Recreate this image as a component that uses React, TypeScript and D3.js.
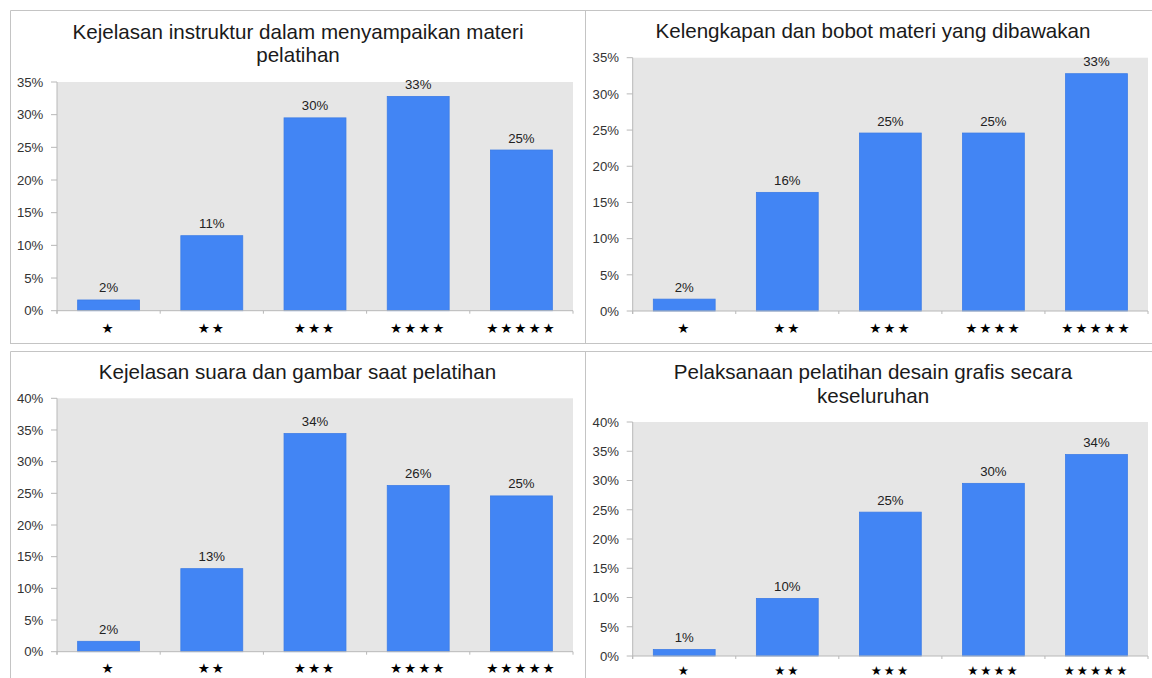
import React from "react";
import * as d3 from "d3";

// Rating categories (1 to 5 stars)
const ratings = ["★", "★★", "★★★", "★★★★", "★★★★★"];

// Panel titles
const titleInstruktur = ["Kejelasan instruktur dalam menyampaikan materi", "pelatihan"];
const titleMateri = ["Kelengkapan dan bobot materi yang dibawakan"];
const titleSuara = ["Kejelasan suara dan gambar saat pelatihan"];
const titlePelaksanaan = ["Pelaksanaan pelatihan desain grafis secara", "keseluruhan"];

// Share of respondents per rating (percent)
const valuesInstruktur = [1.64, 11.48, 29.51, 32.79, 24.59];
const valuesMateri = [1.64, 16.39, 24.59, 24.59, 32.79];
const valuesSuara = [1.64, 13.11, 34.43, 26.23, 24.59];
const valuesPelaksanaan = [1.1, 9.84, 24.59, 29.51, 34.43];

// Y-axis tick values (percent)
const ticks35 = [0, 5, 10, 15, 20, 25, 30, 35];
const ticks40 = [0, 5, 10, 15, 20, 25, 30, 35, 40];

const W = 1152;
const H = 678;
const FONT = "'Liberation Sans', Arial, sans-serif";
const BORDER = "#c4c4c4";
const AXIS = "#b8b8b8";
const PLOT_BG = "#e6e6e6";
const BAR = "#4285f4";

type PanelLayout = {
  left: number;
  right: number;
  top: number;
  bottom: number;
  titleX: number;
  titleY: number;
  starGap: number;
  starSize: number;
};

const panels = [
  { title: titleInstruktur, values: valuesInstruktur, ticks: ticks35, layout: { left: 57, right: 573, top: 82, bottom: 310.7, titleX: 298, titleY: 38.5, starGap: 17, starSize: 13.6 } },
  { title: titleMateri, values: valuesMateri, ticks: ticks35, layout: { left: 632.7, right: 1148, top: 57.7, bottom: 311, titleX: 873, titleY: 38, starGap: 17, starSize: 13.6 } },
  { title: titleSuara, values: valuesSuara, ticks: ticks40, layout: { left: 57, right: 573, top: 398.3, bottom: 651.7, titleX: 297.5, titleY: 378.5, starGap: 16.5, starSize: 13.6 } },
  { title: titlePelaksanaan, values: valuesPelaksanaan, ticks: ticks40, layout: { left: 632.7, right: 1148, top: 422, bottom: 656, titleX: 873, titleY: 379.3, starGap: 14, starSize: 12.5 } },
];

function Panel({ title, values, ticks, layout }: { title: string[]; values: number[]; ticks: number[]; layout: PanelLayout }) {
  const { left, right, top, bottom, titleX, titleY, starGap, starSize } = layout;
  const yMax = ticks[ticks.length - 1];
  const x = d3.scaleBand<string>().domain(ratings).range([left, right]).paddingInner(0.4).paddingOuter(0.2);
  const y = d3.scaleLinear().domain([0, yMax]).range([bottom, top]);
  const step = x.step();
  const bounds = d3.range(ratings.length + 1).map((i) => left + i * step);
  const cx = (r: string) => (x(r) as number) + x.bandwidth() / 2;

  return (
    <g fontFamily={FONT}>
      {title.map((line, i) => (
        <text key={i} x={titleX} y={titleY + i * 23.5} fontSize={20.6} textAnchor="middle" fill="#1a1a1a">
          {line}
        </text>
      ))}
      <rect x={left} y={top} width={right - left} height={bottom - top} fill={PLOT_BG} />
      {/* y axis */}
      <line x1={left} x2={left} y1={top} y2={bottom + 3} stroke={AXIS} />
      {ticks.map((t) => (
        <g key={t}>
          <line x1={left - 6} x2={left} y1={y(t)} y2={y(t)} stroke={AXIS} />
          <text x={left - 13.7} y={y(t)} dy="0.36em" fontSize={13.2} textAnchor="end" fill="#333">
            {`${t}%`}
          </text>
        </g>
      ))}
      {/* bars */}
      {values.map((v, i) => (
        <rect
          key={i}
          x={x(ratings[i])}
          y={y(v)}
          width={x.bandwidth()}
          height={bottom - y(v)}
          fill={BAR}
          stroke="#3c7ce6"
          strokeWidth={0.8}
        />
      ))}
      {values.map((v, i) => (
        <text key={i} x={cx(ratings[i])} y={y(v) - 7.5} fontSize={13.2} textAnchor="middle" fill="#222">
          {`${Math.round(v)}%`}
        </text>
      ))}
      {/* x axis */}
      <line x1={left} x2={right} y1={bottom} y2={bottom} stroke={AXIS} />
      {bounds.map((b, i) => (
        <line key={i} x1={b} x2={b} y1={bottom} y2={bottom + 3} stroke={AXIS} />
      ))}
      {ratings.map((r) => (
        <text
          key={r}
          x={cx(r)}
          y={bottom + starGap}
          dy="0.36em"
          fontSize={starSize}
          fontFamily="'DejaVu Sans', sans-serif"
          letterSpacing={1.9}
          textAnchor="middle"
          fill="#000"
        >
          {r}
        </text>
      ))}
    </g>
  );
}

export default function App() {
  return (
    <svg
      width={W}
      height={H}
      viewBox={`0 0 ${W} ${H}`}
      style={{ position: "absolute", left: 0, top: 0, background: "#fff" }}
    >
      <rect width={W} height={H} fill="#fff" />
      {/* cell borders */}
      <g stroke={BORDER} fill="none">
        <path d={`M10.5,${H} V351.5 H${W}`} />
        <path d={`M10.5,343.5 V10.5 H${W}`} />
        <line x1={10} x2={W} y1={343.5} y2={343.5} />
        <line x1={585.5} x2={585.5} y1={10} y2={344} />
        <line x1={585.5} x2={585.5} y1={351} y2={H} />
      </g>
      {panels.map((p, i) => (
        <Panel key={i} title={p.title} values={p.values} ticks={p.ticks} layout={p.layout} />
      ))}
    </svg>
  );
}
